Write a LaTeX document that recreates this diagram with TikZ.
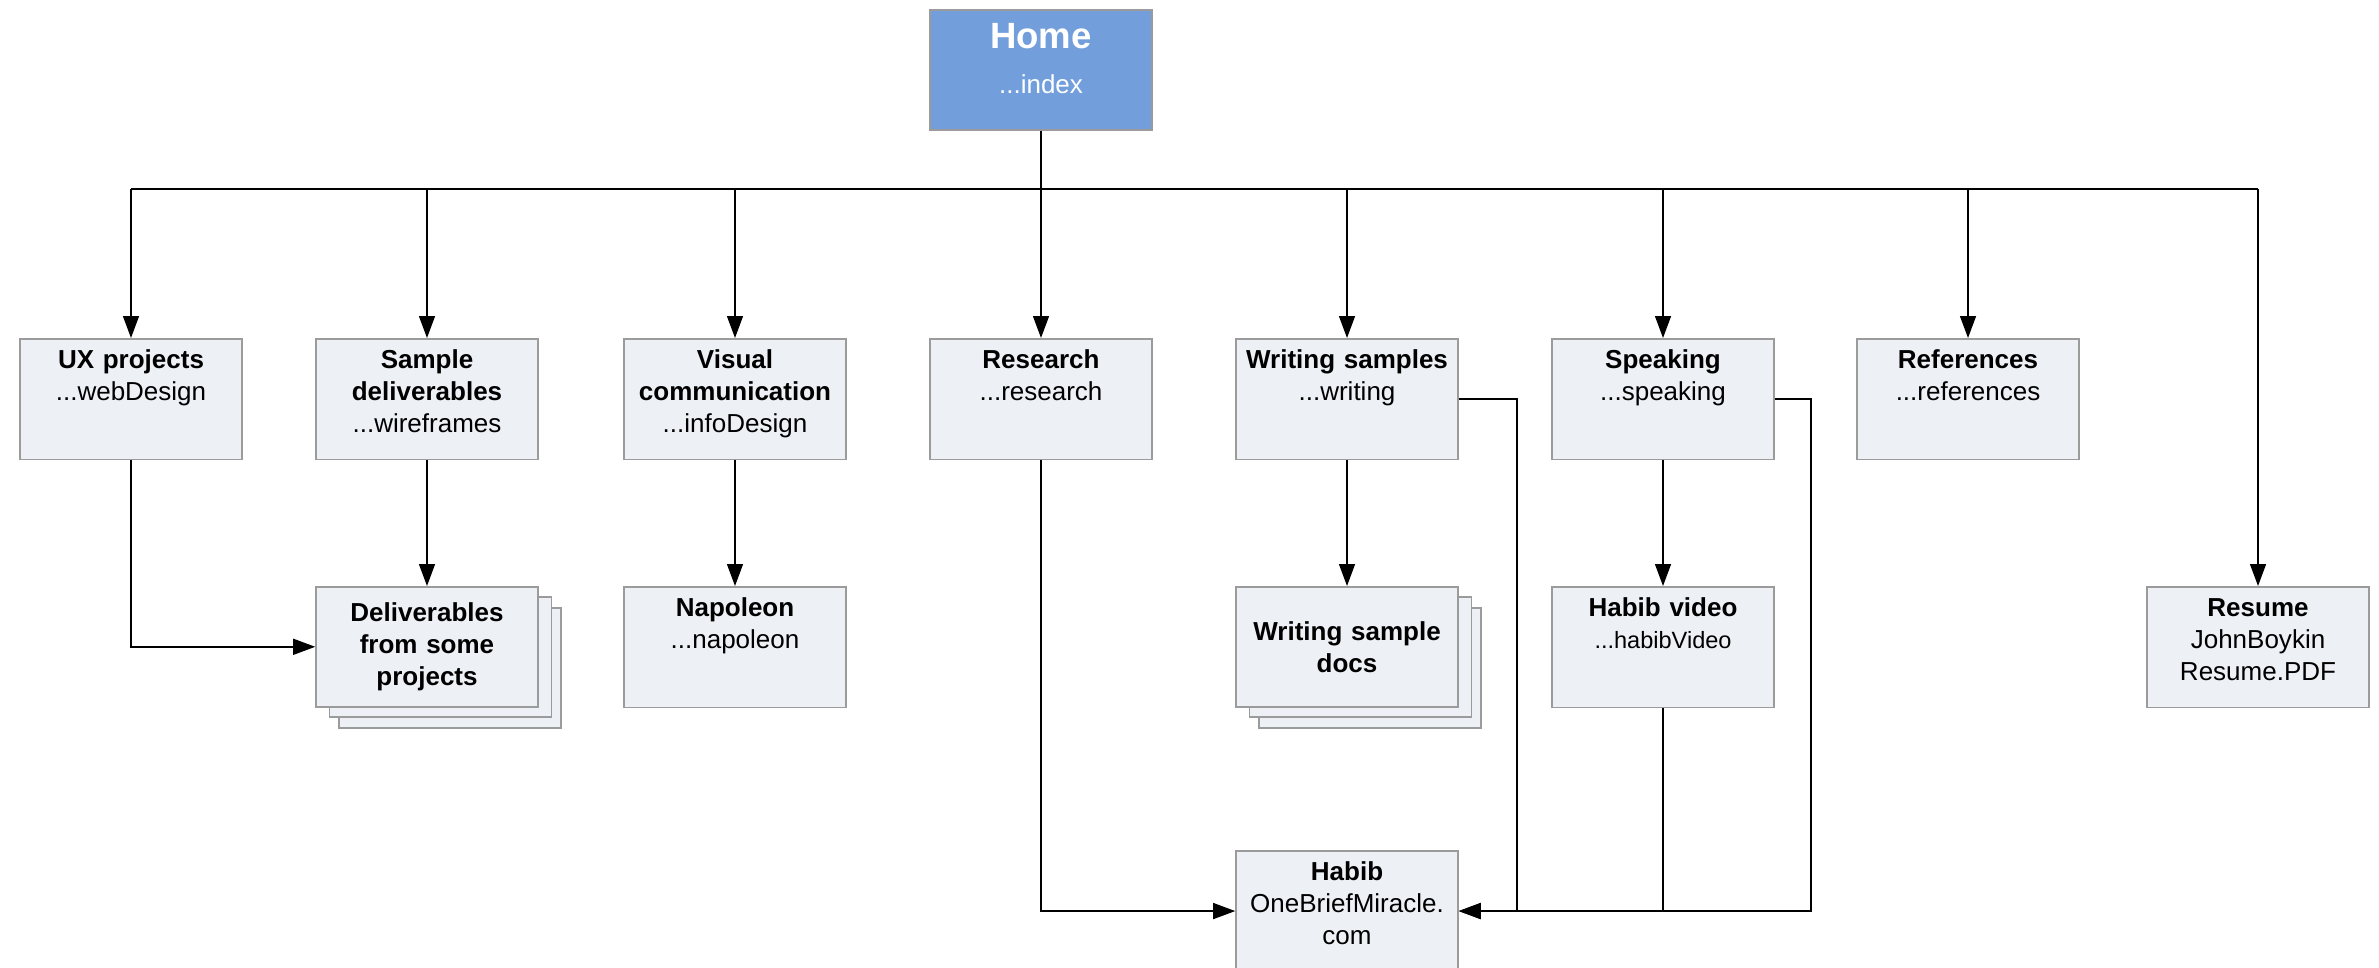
\documentclass[tikz,border=0pt]{standalone}
\usepackage{fontspec}
\setmainfont{Liberation Sans}
\usetikzlibrary{arrows.meta}
\definecolor{boxfill}{RGB}{237,240,245}
\definecolor{boxline}{RGB}{155,155,155}
\definecolor{homefill}{RGB}{114,159,219}
\newcommand{\pagestack}[3]
{   \node[stackbox, xshift=2.3mm, yshift=-2.1mm] (#1-3) at (#2) {};
    \node[stackbox, xshift=1.35mm, yshift=-1.0mm] (#1-2) at (#2) {};
    \node[stackbox] (#1) at (#2) {#3};
}
\tikzset{
  pagebox/.style={draw=boxline, line width=0.45pt, fill=boxfill, anchor=north,
    text width=2.2cm, inner xsep=0.1mm, inner ysep=0pt, align=center,
    text height=3mm, text depth=9.05mm, font=\fontsize{7.4}{9.1}\selectfont},
  stackbox/.style={draw=boxline, line width=0.45pt, fill=boxfill, anchor=north,
    minimum width=2.22cm, minimum height=1.2cm, text width=2.2cm, inner sep=0.1mm,
    align=center, font=\fontsize{7.4}{9.1}\selectfont\bfseries},
  homebox/.style={pagebox, fill=homefill, text=white, text height=3.9mm,
    text depth=8.1mm, font=\fontsize{7.4}{12.8}\selectfont},
  link/.style={draw=black, line width=0.4pt},
  arrowlink/.style={link, -{Triangle[length=2.2mm, width=1.6mm]}}
}
\begin{document}
\begin{tikzpicture}
  \useasboundingbox (0,0) rectangle (23.79,-9.67);

  \node[homebox] (home) at (10.41,-0.09) {{\fontsize{10.4}{12.8}\selectfont\bfseries Home}\\...index};
  \coordinate (bus) at (0,-1.89);

  % first row
  \node[pagebox] (ux) at (1.31,-3.38) {\textbf{UX projects}\\...webDesign};
  \node[pagebox] (sample) at (4.27,-3.38) {\textbf{Sample}\\\textbf{deliverables}\\...wireframes};
  \node[pagebox] (visual) at (7.35,-3.38) {\textbf{Visual}\\\textbf{communication}\\...infoDesign};
  \node[pagebox] (research) at (10.41,-3.38) {\textbf{Research}\\...research};
  \node[pagebox] (writing) at (13.47,-3.38) {\textbf{Writing samples}\\...writing};
  \node[pagebox] (speaking) at (16.63,-3.38) {\textbf{Speaking}\\...speaking};
  \node[pagebox] (refs) at (19.68,-3.38) {\textbf{References}\\...references};

  % second row
  \pagestack{deliv}{4.27,-5.86}{Deliverables\\from some\\projects}
  \node[pagebox] (napoleon) at (7.35,-5.86) {\textbf{Napoleon}\\...napoleon};
  \pagestack{docs}{13.47,-5.86}{Writing sample\\docs}
  \node[pagebox] (video) at (16.63,-5.86) {\textbf{Habib video}\\{\fontsize{6.7}{9.1}\selectfont ...habibVideo}};
  \node[pagebox] (resume) at (22.58,-5.86) {\textbf{Resume}\\JohnBoykin\\Resume.PDF};

  \node[pagebox] (habib) at (13.47,-8.50) {\textbf{Habib}\\OneBriefMiracle.\\com};

  \draw[link] (home.south) -- (home.south |- bus);
  \draw[link] (ux.north |- bus) -- (resume.north |- bus);
  \foreach \n in {ux,sample,visual,research,writing,speaking,refs,resume}
    \draw[arrowlink] (\n.north |- bus) -- (\n.north);

  \draw[arrowlink] (ux.south) |- (deliv.west);
  \draw[arrowlink] (sample.south) -- (deliv.north);
  \draw[arrowlink] (visual.south) -- (napoleon.north);
  \draw[arrowlink] (writing.south) -- (docs.north);
  \draw[arrowlink] (speaking.south) -- (video.north);
  \draw[arrowlink] (research.south) |- (habib.west);
  \draw[arrowlink] (writing.east) -- ++(0.58,0) |- (habib.east);
  \draw[arrowlink] (speaking.east) -- ++(0.36,0) |- (habib.east);
  \draw[link] (video.south) -- (video.south |- habib.east);
\end{tikzpicture}
\end{document}
